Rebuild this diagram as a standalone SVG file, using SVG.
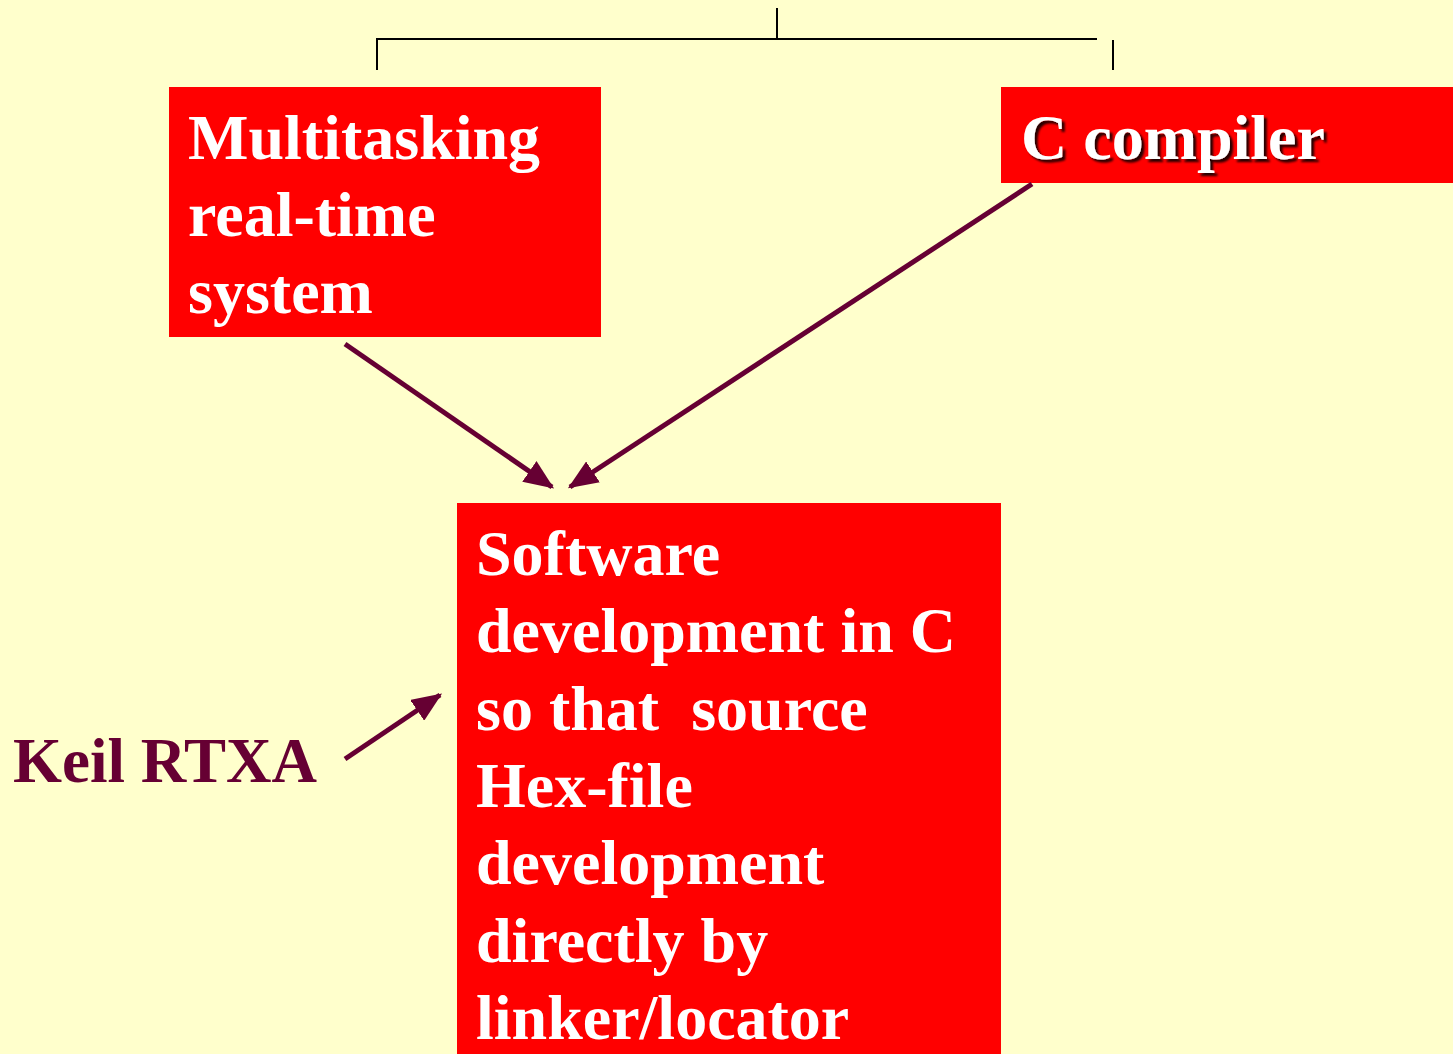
<svg xmlns="http://www.w3.org/2000/svg" width="1453" height="1054" viewBox="0 0 1453 1054">
<defs>
<marker id="ah" markerWidth="6" markerHeight="5" refX="5.5" refY="2.5" orient="auto" markerUnits="strokeWidth">
<path d="M0,0 L6,2.5 L0,5 Z" fill="#660033"/>
</marker>
<filter id="sh" x="-5%" y="-20%" width="115%" height="150%">
<feDropShadow dx="3" dy="3" stdDeviation="1" flood-color="#000" flood-opacity="0.85"/>
</filter>
</defs>
<style>
.box{fill:#FF0000}
.t{font-family:"Liberation Serif","Times New Roman",serif;font-weight:bold;font-size:64px;fill:#FFFFFF}
.k{font-family:"Liberation Serif","Times New Roman",serif;font-weight:bold;font-size:63px;fill:#660033}
.br{stroke:#000;stroke-width:2;fill:none}
.ar{stroke:#660033;stroke-width:5;fill:none;marker-end:url(#ah)}
</style>
<rect width="1453" height="1054" fill="#FFFFCC"/>
<g id="bracket">
<path class="br" d="M777,8 V39 M377,70 V39 H1097 M1113,40 V70"/>
</g>
<g id="multitasking">
<rect class="box" x="169" y="87" width="432" height="250"/>
<text class="t" x="188" y="159">Multitasking</text>
<text class="t" x="188" y="236">real-time</text>
<text class="t" x="188" y="313">system</text>
</g>
<g id="ccompiler">
<rect class="box" x="1001" y="87" width="452" height="96"/>
<text class="t" x="1021" y="159" filter="url(#sh)">C compiler</text>
</g>
<g id="software">
<rect class="box" x="457" y="503" width="544" height="551"/>
<text class="t" x="476" y="575">Software</text>
<text class="t" x="476" y="652">development in C</text>
<text class="t" x="476" y="730" xml:space="preserve">so that  source</text>
<text class="t" x="476" y="807">Hex-file</text>
<text class="t" x="476" y="884">development</text>
<text class="t" x="476" y="962">directly by</text>
<text class="t" x="476" y="1039">linker/locator</text>
</g>
<g id="keil">
<text class="k" x="13" y="782">Keil RTXA</text>
</g>
<g id="connectors">
<line class="ar" x1="345" y1="344" x2="552" y2="487"/>
<line class="ar" x1="1032" y1="184" x2="570" y2="487"/>
<line class="ar" x1="345" y1="759" x2="440" y2="695"/>
</g>
</svg>
